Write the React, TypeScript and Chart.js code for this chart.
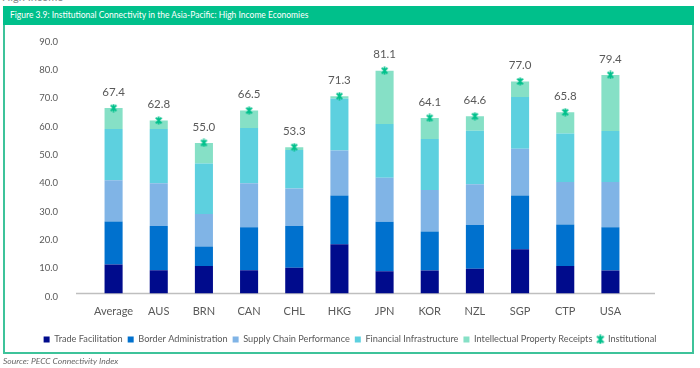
import React, { useEffect, useRef } from "react";
import { Chart, registerables } from "chart.js";

Chart.register(...registerables);

const categories = ["Average", "AUS", "BRN", "CAN", "CHL", "HKG", "JPN", "KOR", "NZL", "SGP", "CTP", "USA"];
const tradeFacilitation = [10.2, 8.2, 9.7, 8.2, 9.1, 17.4, 7.9, 8.1, 8.7, 15.6, 9.7, 8.1];
const borderAdministration = [15.2, 15.6, 6.9, 15.2, 14.7, 17.2, 17.4, 13.8, 15.5, 19.0, 14.7, 15.3];
const supplyChainPerformance = [14.6, 15.1, 11.5, 15.5, 13.3, 15.9, 15.6, 14.7, 14.4, 16.5, 15.0, 16.0];
const financialInfrastructure = [18.1, 19.2, 17.8, 19.6, 13.6, 18.4, 19.0, 18.0, 18.9, 18.3, 17.1, 18.0];
const intellectualPropertyReceipts = [7.4, 3.0, 7.3, 6.1, 1.0, 0.8, 18.8, 7.4, 5.1, 5.5, 7.5, 19.8];
const institutional = [67.4, 62.8, 55.0, 66.5, 53.3, 71.3, 81.1, 64.1, 64.6, 77.0, 65.8, 79.4];
const yMin = 0;
const yMax = 90;
const yStep = 10;

const FONT = "Lato, 'Open Sans', sans-serif";
const TEXT = "#595959";
const GREEN = "#00C08B";
const COLORS = ["#000B8C", "#0071CE", "#80B4E6", "#5DD0DF", "#86E0C6"];

function makeStar(size: number, color: string, lw: number): HTMLCanvasElement {
  const c = document.createElement("canvas");
  c.width = size;
  c.height = size;
  const ctx = c.getContext("2d")!;
  ctx.strokeStyle = color;
  ctx.lineWidth = lw;
  const m = size / 2;
  const r = size / 2 - 0.5;
  const d = r * 0.72;
  ctx.beginPath();
  ctx.moveTo(m, m - r);
  ctx.lineTo(m, m + r);
  ctx.moveTo(m - d, m - d);
  ctx.lineTo(m + d, m + d);
  ctx.moveTo(m + d, m - d);
  ctx.lineTo(m - d, m + d);
  ctx.stroke();
  return c;
}

export default function App() {
  const ref = useRef<HTMLCanvasElement>(null);

  useEffect(() => {
    if (!ref.current) return;
    const star = makeStar(9, GREEN, 1.8);
    const legendStar = makeStar(10, GREEN, 2);
    const series = [
      tradeFacilitation,
      borderAdministration,
      supplyChainPerformance,
      financialInfrastructure,
      intellectualPropertyReceipts,
    ];
    const names = [
      "Trade Facilitation",
      "Border Administration",
      "Supply Chain Performance",
      "Financial Infrastructure",
      "Intellectual Property Receipts",
    ];
    const stackTops = categories.map((_, i) => series.reduce((s, arr) => s + arr[i], 0));

    const baselinePlugin = {
      id: "baseline",
      beforeDatasetsDraw(chart: any) {
        const { ctx, chartArea, scales } = chart;
        const y = scales.y.getPixelForValue(0);
        ctx.save();
        ctx.strokeStyle = "#BFBFBF";
        ctx.lineWidth = 1.5;
        ctx.beginPath();
        ctx.moveTo(chartArea.left - 15, y);
        ctx.lineTo(chartArea.right + 22, y);
        ctx.stroke();
        ctx.restore();
      },
    };

    const labelPlugin = {
      id: "instLabels",
      afterDatasetsDraw(chart: any) {
        const { ctx } = chart;
        const meta = chart.getDatasetMeta(5);
        ctx.save();
        ctx.fillStyle = TEXT;
        ctx.font = `11.5px ${FONT}`;
        ctx.textAlign = "center";
        ctx.textBaseline = "middle";
        meta.data.forEach((pt: any, i: number) => {
          ctx.fillText(institutional[i].toFixed(1), pt.x, pt.y - 16);
        });
        ctx.restore();
      },
    };

    const chart = new Chart(ref.current, {
      type: "bar",
      data: {
        labels: categories,
        datasets: [
          ...series.map((arr, k) => ({
            type: "bar" as const,
            label: names[k],
            data: arr,
            backgroundColor: COLORS[k],
            borderWidth: 0,
            barPercentage: 0.4,
            categoryPercentage: 1,
            order: 1,
          })),
          {
            type: "line" as const,
            label: "Institutional",
            data: stackTops,
            showLine: false,
            pointStyle: star as any,
            pointRadius: 5,
            borderColor: GREEN,
            backgroundColor: GREEN,
            stack: "inst",
            order: 0,
          } as any,
        ],
      },
      options: {
        animation: false,
        responsive: false,
        maintainAspectRatio: false,
        layout: { padding: { top: 34, left: 0, right: 0, bottom: 14 } },
        scales: {
          x: {
            stacked: true,
            grid: { display: false, drawTicks: false },
            border: { display: false },
            ticks: { color: TEXT, font: { family: FONT, size: 11 }, padding: 11, maxRotation: 0, minRotation: 0 },
            afterFit: (s: any) => {
              s.height = 36.3;
            },
          },
          y: {
            stacked: true,
            min: yMin,
            max: yMax,
            grid: { display: false, drawTicks: false },
            border: { display: false },
            ticks: {
              stepSize: yStep,
              color: TEXT,
              font: { family: FONT, size: 9.5 },
              padding: 33,
              labelOffset: 3,
              callback: (v: any) => Number(v).toFixed(1),
            },
            afterFit: (s: any) => {
              s.width = 91;
            },
          },
          yRight: {
            position: "right",
            display: true,
            grid: { display: false, drawTicks: false },
            border: { display: false },
            ticks: { display: false },
            afterFit: (s: any) => {
              s.width = 67;
            },
          },
        },
        plugins: {
          tooltip: { enabled: false },
          legend: {
            position: "bottom",
            labels: {
              color: TEXT,
              font: { family: FONT, size: 9.2 },
              usePointStyle: true,
              boxWidth: 6,
              boxHeight: 6,
              padding: 5,
              generateLabels: (c: any) => {
                const items = Chart.defaults.plugins.legend.labels.generateLabels(c);
                items.forEach((it: any) => {
                  it.pointStyle = it.datasetIndex === 5 ? legendStar : "rect";
                  it.lineWidth = 0;
                  it.strokeStyle = "rgba(0,0,0,0)";
                });
                return items.sort((a: any, b: any) => a.datasetIndex - b.datasetIndex);
              },
            },
          },
        },
      } as any,
      plugins: [baselinePlugin, labelPlugin],
    });
    return () => chart.destroy();
  }, []);

  return (
    <div
      style={{
        position: "fixed",
        left: 0,
        top: 0,
        width: 700,
        height: 368,
        background: "#fff",
        overflow: "hidden",
        fontFamily: FONT,
      }}
    >
      <div style={{ position: "absolute", left: 2, top: -10, fontSize: 11, color: "#8a8a8a", whiteSpace: "nowrap" }}>
        High Income
      </div>
      <div
        style={{
          position: "absolute",
          left: 3,
          top: 6,
          width: 691,
          height: 348,
          boxSizing: "border-box",
          border: "2px solid #3DC39A",
        }}
      />
      <div
        style={{
          position: "absolute",
          left: 3,
          top: 6,
          width: 691,
          height: 19,
          background: GREEN,
          color: "#fff",
          fontSize: 8.5,
          lineHeight: "19px",
          paddingLeft: 7,
          boxSizing: "border-box",
          whiteSpace: "nowrap",
        }}
      >
        Figure 3.9: Institutional Connectivity in the Asia-Pacific: High Income Economies
      </div>
      <canvas
        ref={ref}
        width={700}
        height={368}
        style={{ position: "absolute", left: 0, top: 0, width: 700, height: 368 }}
      />
      <div
        style={{
          position: "absolute",
          left: 3,
          top: 356,
          fontSize: 8.5,
          fontStyle: "italic",
          color: "#666",
          whiteSpace: "nowrap",
        }}
      >
        Source: PECC Connectivity Index
      </div>
    </div>
  );
}
